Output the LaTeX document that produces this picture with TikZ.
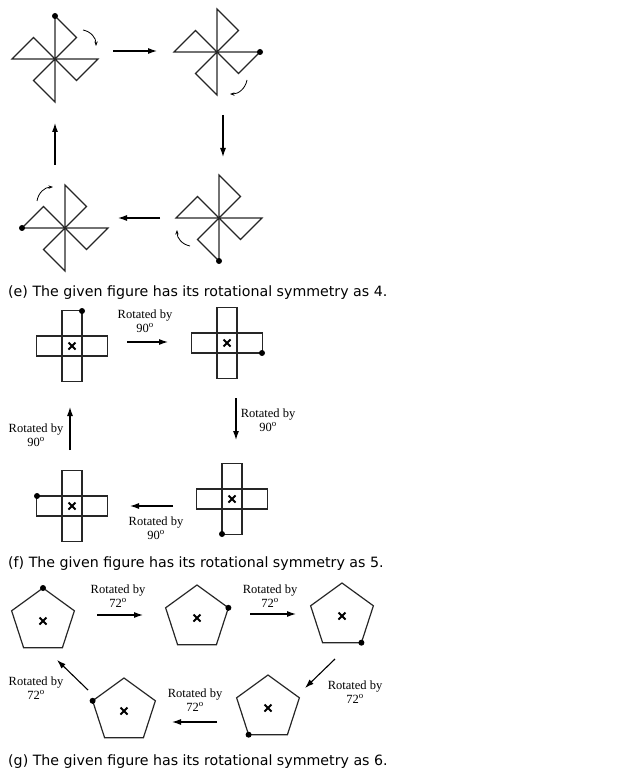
\documentclass[tikz,border=0pt]{standalone}
\usepackage{fontspec}
\setmainfont{Liberation Serif}
\newfontfamily\capfont{DejaVu Sans}
\usetikzlibrary{positioning, arrows.meta, calc}

\tikzset{
  fig/.style={draw=black!85, line width=1.2pt},
  arr/.style={-{Latex[length=9pt,width=6pt]}, line width=1.1pt},
  curv/.style={-{Stealth[length=4.5pt]}, line width=0.8pt},
  lbl/.style={font=\fontsize{12.5}{14}\selectfont, align=center, inner sep=0pt},
  captext/.style={font=\capfont\fontsize{14.2}{16}\selectfont, anchor=base west, inner sep=0pt},
  dotc/.style={fill=black, circle, inner sep=0pt, minimum size=6pt}
}

% bold x mark at a point
\newcommand{\xmark}[1]{
  \draw[line width=1.8pt] ($(#1)+(-3.5,-3.5)$) -- ($(#1)+(3.5,3.5)$)
                          ($(#1)+(-3.5,3.5)$) -- ($(#1)+(3.5,-3.5)$);
}
% pinwheel: #1 centre name, #2 angle of the dotted arm
\newcommand{\pinwheel}[2]{
  \foreach \a in {0,90,180,270}
    \draw[fig] (#1) -- ++(\a:43) -- ($(#1)+(\a+45:30.4)$) -- (#1);
  \node[dotc] at ($(#1)+(#2:43)$) {};
}
% cross: #1 centre name, #2 dot corner offset
\newcommand{\crossfig}[2]{
  \draw[fig] ($(#1)+(-10,-35.5)$) rectangle ($(#1)+(10,35.5)$);
  \draw[fig] ($(#1)+(-35.5,-10)$) rectangle ($(#1)+(35.5,10)$);
  \xmark{#1}
  \node[dotc] at ($(#1)+#2$) {};
}
% pentagon: #1 centre name, #2 angle of the dotted vertex
\newcommand{\pentfig}[2]{
  \draw[fig] ($(#1)+(-90:33)$) \foreach \a in {-18,54,126,198} { -- ($(#1)+(\a:33)$) } -- cycle;
  \xmark{#1}
  \node[dotc] at ($(#1)+(#2:33)$) {};
}

\begin{document}
\begin{tikzpicture}[x=1pt, y=-1pt]
  \useasboundingbox (0,0) rectangle (639,775);

  % (e) pinwheels
  \coordinate (pw1) at (55,59);
  \coordinate (pw2) at (217,52);
  \coordinate (pw3) at (219,218);
  \coordinate (pw4) at (65,228);
  \pinwheel{pw1}{-90}
  \pinwheel{pw2}{0}
  \pinwheel{pw3}{90}
  \pinwheel{pw4}{180}

  \coordinate (ea1) at (113,51);  \coordinate (eb1) at (157,51);
  \coordinate (ea2) at (223,115); \coordinate (eb2) at (223,157);
  \coordinate (ea3) at (160,218); \coordinate (eb3) at (118,218);
  \coordinate (ea4) at (55,165);  \coordinate (eb4) at (55,123);
  \foreach \i in {1,...,4}
    \draw[arr] (ea\i) -- (eb\i);

  \coordinate (ca1) at (83,30);  \coordinate (cb1) at (96,46);
  \coordinate (ca2) at (247,80); \coordinate (cb2) at (230,94);
  \coordinate (ca3) at (190,246); \coordinate (cb3) at (177,230);
  \coordinate (ca4) at (37,201); \coordinate (cb4) at (53,187);
  \foreach \i in {1,...,4}
    \draw[curv] (ca\i) to[bend left=40] (cb\i);

  \node[captext] (capE) at (8,296) {(e) The given figure has its rotational symmetry as 4.};

  % (f) crosses
  \coordinate (cr1) at (72,346);
  \coordinate (cr2) at (227,343);
  \coordinate (cr3) at (232,499);
  \coordinate (cr4) at (72,506);
  \crossfig{cr1}{(10,-35)}
  \crossfig{cr2}{(35,10)}
  \crossfig{cr3}{(-10,35)}
  \crossfig{cr4}{(-35,-10)}

  \coordinate (fa1) at (127,342); \coordinate (fb1) at (168,342);
  \coordinate (fa2) at (236,398); \coordinate (fb2) at (236,440);
  \coordinate (fa3) at (173,506); \coordinate (fb3) at (130,506);
  \coordinate (fa4) at (70,450);  \coordinate (fb4) at (70,407);
  \foreach \i in {1,...,4}
    \draw[arr] (fa\i) -- (fb\i);
  \node[lbl] (fl1) at (145,321) {Rotated by\\90$^{\mathrm{o}}$};
  \node[lbl] (fl2) at (268,420) {Rotated by\\90$^{\mathrm{o}}$};
  \node[lbl] (fl3) at (156,528) {Rotated by\\90$^{\mathrm{o}}$};
  \node[lbl] (fl4) at (36,435) {Rotated by\\90$^{\mathrm{o}}$};

  \node[captext] (capF) at (8,567) {(f) The given figure has its rotational symmetry as 5.};

  % (g) pentagons
  \coordinate (pg1) at (43,621);
  \coordinate (pg2) at (197,618);
  \coordinate (pg3) at (342,616);
  \coordinate (pg4) at (268,708);
  \coordinate (pg5) at (124,711);
  \pentfig{pg1}{-90}
  \pentfig{pg2}{-18}
  \pentfig{pg3}{54}
  \pentfig{pg4}{126}
  \pentfig{pg5}{198}

  \coordinate (ga1) at (97,615);  \coordinate (gb1) at (143,615);
  \coordinate (ga2) at (250,614); \coordinate (gb2) at (296,614);
  \coordinate (ga3) at (335,659); \coordinate (gb3) at (305,688);
  \coordinate (ga4) at (217,722); \coordinate (gb4) at (172,722);
  \coordinate (ga5) at (88,690);  \coordinate (gb5) at (57,660);
  \foreach \i in {1,...,5}
    \draw[arr] (ga\i) -- (gb\i);
  \node[lbl] (gl1) at (118,596) {Rotated by\\72$^{\mathrm{o}}$};
  \node[lbl] (gl2) at (270,596) {Rotated by\\72$^{\mathrm{o}}$};
  \node[lbl] (gl3) at (355,692) {Rotated by\\72$^{\mathrm{o}}$};
  \node[lbl] (gl4) at (195,700) {Rotated by\\72$^{\mathrm{o}}$};
  \node[lbl] (gl5) at (36,688) {Rotated by\\72$^{\mathrm{o}}$};

  \node[captext] (capG) at (8,765) {(g) The given figure has its rotational symmetry as 6.};
\end{tikzpicture}
\end{document}
